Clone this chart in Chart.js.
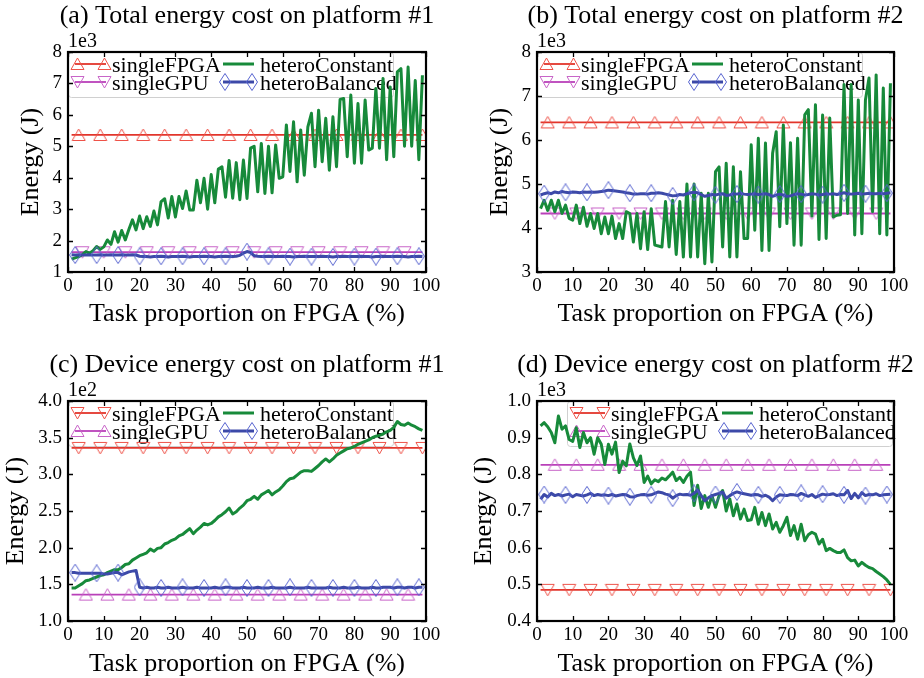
<!DOCTYPE html>
<html>
<head>
<meta charset="utf-8">
<script src="https://cdn.jsdelivr.net/npm/chart.js@4.4.0/dist/chart.umd.min.js"></script>
<style>
  body { margin: 0; background: #fff; }
  #wrap { position: relative; width: 924px; height: 678px; }
  #wrap canvas { position: absolute; }
</style>
</head>
<body>
<div id="wrap">
  <canvas id="pa" width="462" height="339" style="left:0;top:0"></canvas>
  <canvas id="pb" width="462" height="339" style="left:462px;top:0"></canvas>
  <canvas id="pc" width="462" height="339" style="left:0;top:339px"></canvas>
  <canvas id="pd" width="462" height="339" style="left:462px;top:339px"></canvas>
</div>
<script>
const taskShare = [1,2,3,4,5,6,7,8,9,10,11,12,13,14,15,16,17,18,19,20,
  21,22,23,24,25,26,27,28,29,30,31,32,33,34,35,36,37,38,39,40,
  41,42,43,44,45,46,47,48,49,50,51,52,53,54,55,56,57,58,59,60,
  61,62,63,64,65,66,67,68,69,70,71,72,73,74,75,76,77,78,79,80,
  81,82,83,84,85,86,87,88,89,90,91,92,93,94,95,96,97,98,99];
const xTicks = [0,10,20,30,40,50,60,70,80,90,100];

// (a) total energy, platform #1, x1e3 J
const aTicks = [1,2,3,4,5,6,7,8];
const aSingleFPGA = 5.36;
const aSingleGPU = 1.63;
const aHeteroConstant = [1.41,1.45,1.49,1.55,1.65,1.60,1.68,1.81,1.72,1.80,
  2.02,1.88,2.28,1.95,2.32,2.02,2.35,2.66,2.34,2.78,
  2.38,2.76,2.45,2.94,2.50,3.24,3.33,2.72,3.40,2.75,
  3.40,3.02,3.58,2.97,2.97,3.92,3.20,3.98,3.00,4.10,
  3.20,4.28,4.35,3.38,4.55,3.35,4.48,3.30,4.56,3.34,
  4.94,5.00,3.55,5.09,3.50,5.00,3.52,5.04,3.98,4.03,
  5.68,4.20,5.78,3.87,5.52,4.08,5.62,6.05,4.35,6.15,
  4.51,5.89,4.24,5.94,4.35,6.49,6.52,4.67,6.63,4.46,
  6.36,4.46,6.47,4.88,4.94,6.84,4.94,7.16,4.57,6.89,
  4.67,7.37,7.47,5.00,7.52,5.00,7.09,4.57,7.26];
const aHeteroBalanced = [1.55,1.54,1.55,1.54,1.54,1.55,1.54,1.54,1.55,1.54,
  1.54,1.55,1.54,1.54,1.55,1.54,1.54,1.55,1.54,1.50,
  1.49,1.49,1.48,1.49,1.49,1.50,1.49,1.48,1.49,1.49,
  1.49,1.50,1.49,1.48,1.49,1.49,1.49,1.50,1.49,1.49,
  1.48,1.49,1.49,1.50,1.49,1.49,1.50,1.53,1.60,1.65,
  1.62,1.52,1.50,1.49,1.49,1.50,1.49,1.49,1.49,1.50,
  1.49,1.49,1.48,1.49,1.49,1.50,1.49,1.49,1.49,1.49,
  1.50,1.49,1.49,1.48,1.49,1.49,1.50,1.49,1.49,1.49,
  1.49,1.50,1.49,1.49,1.48,1.49,1.49,1.50,1.49,1.49,
  1.49,1.50,1.49,1.49,1.48,1.49,1.49,1.50,1.49];

// (b) total energy, platform #2, x1e3 J
const bTicks = [3,4,5,6,7,8];
const bSingleFPGA = 6.40;
const bSingleGPU = 4.33;
const bHeteroConstant = [4.44,4.63,4.40,4.63,4.37,4.63,4.33,4.52,4.22,4.18,
  4.52,4.10,4.47,4.04,4.33,3.99,4.33,3.87,4.25,3.87,
  4.27,3.76,4.10,3.76,4.37,4.33,3.68,4.33,3.53,4.37,
  3.51,4.44,3.61,3.59,3.57,4.60,3.57,4.63,3.40,4.60,
  3.34,5.00,3.34,5.00,3.34,4.79,3.19,4.79,3.23,5.28,
  5.39,3.57,5.47,3.34,5.39,3.34,5.28,3.76,3.76,5.89,
  3.95,6.04,3.49,5.93,3.49,5.70,6.19,4.03,6.34,4.10,
  5.94,3.61,6.04,3.61,6.57,6.69,4.27,6.80,3.74,6.57,
  3.76,6.50,4.25,4.29,4.30,7.26,4.33,7.26,3.84,6.91,
  3.87,6.91,7.41,4.37,7.48,3.87,7.18,3.84,7.29];
const bHeteroBalanced = [4.75,4.78,4.80,4.78,4.82,4.80,4.83,4.81,4.80,4.82,
  4.81,4.80,4.82,4.81,4.82,4.81,4.82,4.83,4.84,4.86,
  4.85,4.84,4.83,4.82,4.80,4.79,4.77,4.77,4.78,4.78,
  4.77,4.79,4.79,4.80,4.79,4.77,4.75,4.73,4.74,4.76,
  4.75,4.78,4.80,4.81,4.80,4.76,4.72,4.74,4.76,4.75,
  4.77,4.78,4.74,4.75,4.78,4.77,4.79,4.77,4.76,4.77,
  4.78,4.76,4.77,4.78,4.76,4.72,4.75,4.77,4.75,4.72,
  4.73,4.76,4.78,4.77,4.75,4.76,4.78,4.77,4.75,4.76,
  4.78,4.77,4.78,4.76,4.78,4.80,4.78,4.77,4.78,4.79,
  4.77,4.78,4.79,4.78,4.78,4.79,4.78,4.79,4.80];

// (c) device energy, platform #1, x1e2 J
const cTicks = [1.0,1.5,2.0,2.5,3.0,3.5,4.0];
const cSingleFPGA = 3.36;
const cSingleGPU = 1.36;
const cHeteroConstant = [1.45,1.45,1.48,1.51,1.55,1.56,1.58,1.60,1.62,1.63,
  1.66,1.68,1.70,1.70,1.73,1.77,1.78,1.83,1.86,1.89,
  1.91,1.93,1.98,1.95,1.99,2.00,2.05,2.07,2.10,2.12,
  2.16,2.18,2.22,2.26,2.19,2.24,2.28,2.33,2.31,2.33,
  2.37,2.42,2.45,2.49,2.54,2.46,2.49,2.54,2.58,2.64,
  2.66,2.70,2.66,2.72,2.75,2.78,2.72,2.76,2.79,2.84,
  2.90,2.94,2.95,2.99,3.03,3.05,3.05,3.04,3.08,3.12,
  3.17,3.21,3.17,3.21,3.26,3.29,3.32,3.35,3.36,3.38,
  3.41,3.43,3.45,3.47,3.50,3.52,3.53,3.55,3.58,3.60,
  3.64,3.72,3.68,3.67,3.70,3.67,3.65,3.62,3.60];
const cHeteroBalanced = [1.66,1.66,1.65,1.65,1.65,1.65,1.65,1.65,1.65,1.64,
  1.64,1.65,1.66,1.66,1.63,1.65,1.67,1.68,1.69,1.46,
  1.45,1.46,1.45,1.45,1.46,1.45,1.45,1.46,1.45,1.45,
  1.45,1.46,1.45,1.45,1.45,1.46,1.45,1.45,1.45,1.45,
  1.46,1.45,1.45,1.46,1.46,1.45,1.45,1.45,1.46,1.45,
  1.45,1.45,1.46,1.45,1.45,1.45,1.46,1.45,1.45,1.45,
  1.45,1.46,1.45,1.45,1.45,1.45,1.46,1.45,1.45,1.45,
  1.45,1.45,1.46,1.45,1.45,1.45,1.46,1.45,1.45,1.45,
  1.46,1.45,1.45,1.45,1.46,1.45,1.45,1.46,1.46,1.46,
  1.45,1.46,1.46,1.45,1.46,1.46,1.45,1.46,1.46];

// (d) device energy, platform #2, x1e3 J
const dTicks = [0.4,0.5,0.6,0.7,0.8,0.9,1.0];
const dSingleFPGA = 0.485;
const dSingleGPU = 0.826;
const dHeteroConstant = [0.932,0.941,0.930,0.914,0.886,0.959,0.923,0.932,0.895,0.890,
  0.927,0.873,0.914,0.886,0.900,0.855,0.900,0.882,0.827,0.882,
  0.855,0.888,0.805,0.836,0.823,0.883,0.845,0.824,0.850,0.778,
  0.795,0.774,0.785,0.780,0.790,0.785,0.795,0.806,0.783,0.792,
  0.778,0.795,0.806,0.715,0.770,0.707,0.742,0.710,0.742,0.710,
  0.742,0.756,0.700,0.733,0.687,0.719,0.678,0.705,0.674,0.676,
  0.710,0.664,0.696,0.660,0.692,0.651,0.669,0.642,0.660,0.683,
  0.633,0.660,0.623,0.664,0.619,0.635,0.642,0.637,0.610,0.623,
  0.592,0.598,0.592,0.587,0.587,0.594,0.573,0.564,0.566,0.550,
  0.560,0.552,0.546,0.543,0.535,0.528,0.521,0.512,0.500];
const dHeteroBalanced = [0.732,0.745,0.738,0.748,0.742,0.745,0.741,0.744,0.746,0.739,
  0.745,0.743,0.741,0.744,0.748,0.742,0.745,0.743,0.744,0.742,
  0.745,0.741,0.743,0.745,0.744,0.739,0.738,0.742,0.744,0.745,
  0.743,0.744,0.748,0.752,0.750,0.746,0.744,0.735,0.742,0.746,
  0.744,0.745,0.743,0.748,0.757,0.742,0.728,0.736,0.742,0.745,
  0.748,0.752,0.735,0.742,0.748,0.752,0.749,0.747,0.745,0.743,
  0.745,0.744,0.740,0.743,0.738,0.728,0.738,0.744,0.743,0.742,
  0.745,0.744,0.742,0.748,0.744,0.740,0.745,0.737,0.742,0.746,
  0.744,0.745,0.747,0.742,0.745,0.744,0.756,0.734,0.748,0.736,
  0.750,0.742,0.745,0.744,0.747,0.742,0.744,0.745,0.746];

const SERIF = "'Liberation Serif', 'Times New Roman', serif";
const RED = '#e2352b', RED_MK = '#ee5248';
const PURPLE = '#b940b9', PURPLE_MK = '#c865c8';
const GREEN = '#178a3a';
const BLUE = '#3c49a8', BLUE_MK = '#5865d0';

function makeMarker(shape, color) {
  const c = document.createElement('canvas');
  const dia = shape === 'diamond';
  c.width = dia ? 12 : 15;
  c.height = dia ? 18 : 14;
  const g = c.getContext('2d');
  const w = c.width, h = c.height;
  g.strokeStyle = color;
  g.lineWidth = 1;
  g.beginPath();
  if (shape === 'up') {
    g.moveTo(w / 2, 1); g.lineTo(w - 1, h - 1.5); g.lineTo(1, h - 1.5);
  } else if (shape === 'down') {
    g.moveTo(1, 1.5); g.lineTo(w - 1, 1.5); g.lineTo(w / 2, h - 1);
  } else {
    g.moveTo(w / 2, 0.5); g.lineTo(w - 0.5, h / 2); g.lineTo(w / 2, h - 0.5); g.lineTo(0.5, h / 2);
  }
  g.closePath();
  g.stroke();
  return c;
}

const flat = v => taskShare.map(() => v);

function series(label, values, color, width, marker, phase, order) {
  return {
    label,
    data: taskShare.map((x, i) => ({ x, y: values[i] })),
    borderColor: color,
    backgroundColor: color,
    borderWidth: width,
    borderJoinStyle: 'round',
    tension: 0,
    order,
    pointStyle: marker || 'circle',
    pointRadius: marker ? (c => c.dataIndex % 6 === phase ? 6 : 0) : 0,
    pointHoverRadius: 0,
    marker
  };
}

function decor(p) {
  return {
    id: 'decor',
    beforeDatasetsDraw(chart) {
      const { ctx, chartArea: a } = chart;
      const L = a.left + p.legendShift, T = a.top;
      ctx.save();
      ctx.fillStyle = 'rgba(255,255,255,0.8)';
      ctx.strokeStyle = '#d0d0d0';
      ctx.lineWidth = 1;
      ctx.beginPath();
      ctx.roundRect(L + 0.5, T + 0.5, 325, 45, 3);
      ctx.fill();
      ctx.stroke();
      chart.data.datasets.forEach((ds, i) => {
        const col = Math.floor(i / 2), row = i % 2;
        const x0 = L + (col ? 155 : 7), y = T + (row ? 30 : 12);
        ctx.strokeStyle = ds.borderColor;
        ctx.lineWidth = ds.borderWidth;
        ctx.beginPath();
        ctx.moveTo(x0, y);
        ctx.lineTo(x0 + 31, y);
        ctx.stroke();
        if (ds.marker) {
          [x0 + 2, x0 + 29].forEach(mx => {
            ctx.drawImage(ds.marker, Math.round(mx - ds.marker.width / 2), Math.round(y - ds.marker.height / 2));
          });
        }
        ctx.fillStyle = '#000';
        ctx.font = '22px ' + SERIF;
        ctx.textAlign = 'left';
        ctx.textBaseline = 'alphabetic';
        ctx.fillText(ds.label, x0 + 37, y + 7.5);
      });
      ctx.restore();
    },
    afterDatasetsDraw(chart) {
      const { ctx, chartArea: a, scales: { x, y } } = chart;
      ctx.save();
      ctx.strokeStyle = '#000';
      ctx.lineWidth = 1.3;
      ctx.beginPath();
      xTicks.forEach(v => {
        const px = Math.round(x.getPixelForValue(v)) + 0.5;
        ctx.moveTo(px, a.bottom); ctx.lineTo(px, a.bottom - 5);
        ctx.moveTo(px, a.top); ctx.lineTo(px, a.top + 5);
      });
      p.ticks.forEach(v => {
        const py = Math.round(y.getPixelForValue(v)) + 0.5;
        ctx.moveTo(a.left, py); ctx.lineTo(a.left + 5, py);
        ctx.moveTo(a.right, py); ctx.lineTo(a.right - 5, py);
      });
      ctx.stroke();
      ctx.lineWidth = 2.2;
      ctx.strokeRect(a.left, a.top, a.right - a.left, a.bottom - a.top);

      ctx.fillStyle = '#000';
      ctx.font = '26px ' + SERIF;
      ctx.textAlign = 'center';
      ctx.textBaseline = 'middle';
      ctx.fillText(p.title, (a.left + a.right) / 2, a.top - 36);
      ctx.font = '20px ' + SERIF;
      ctx.textAlign = 'left';
      ctx.fillText(p.exp, a.left, a.top - 10);
      ctx.restore();
    }
  };
}

function makeChart(p) {
  const tickFont = { family: SERIF, size: 19 };
  const titleFont = { family: SERIF, size: 26, lineHeight: 1 };
  new Chart(document.getElementById(p.el), {
    type: 'line',
    data: { datasets: p.datasets },
    options: {
      responsive: false,
      animation: false,
      devicePixelRatio: 1,
      layout: { padding: { left: 0, right: p.right, top: p.top, bottom: 0 } },
      plugins: { legend: { display: false }, tooltip: { enabled: false }, title: { display: false } },
      scales: {
        x: {
          type: 'linear', min: 0, max: 100,
          afterBuildTicks: s => { s.ticks = xTicks.map(v => ({ value: v })); },
          afterFit: s => { s.height = p.xh; },
          grid: { display: false, drawTicks: false },
          border: { display: false },
          ticks: { font: tickFont, color: '#000', padding: 3, maxRotation: 0, autoSkip: false, callback: v => String(v) },
          title: { display: true, text: 'Task proportion on FPGA (%)', font: titleFont, color: '#000', padding: { top: 0, bottom: p.xtp } }
        },
        y: {
          type: 'linear', min: p.ticks[0], max: p.ticks[p.ticks.length - 1],
          afterBuildTicks: s => { s.ticks = p.ticks.map(v => ({ value: v })); },
          afterFit: s => { s.width = p.yw; },
          grid: { display: false, drawTicks: false },
          border: { display: false },
          ticks: { font: tickFont, color: '#000', padding: 6, autoSkip: false, callback: v => v.toFixed(p.dec) },
          title: { display: true, text: 'Energy (J)', font: titleFont, color: '#000', padding: { top: p.ytp, bottom: 0 } }
        }
      }
    },
    plugins: [decor(p)]
  });
}

makeChart({
  el: 'pa', title: '(a) Total energy cost on platform #1', exp: '1e3', ticks: aTicks, dec: 0,
  yw: 68, right: 36, top: 52, xh: 67, xtp: 12, ytp: 18, legendShift: 0,
  datasets: [
    series('singleFPGA', flat(aSingleFPGA), RED, 1.8, makeMarker('up', RED_MK), 2, 4),
    series('singleGPU', flat(aSingleGPU), PURPLE, 1.8, makeMarker('down', PURPLE_MK), 3, 3),
    series('heteroConstant', aHeteroConstant, GREEN, 3, null, 0, 2),
    series('heteroBalanced', aHeteroBalanced, BLUE, 3, makeMarker('diamond', BLUE_MK), 1, 1)
  ]
});
makeChart({
  el: 'pb', title: '(b) Total energy cost on platform #2', exp: '1e3', ticks: bTicks, dec: 0,
  yw: 75, right: 30, top: 52, xh: 67, xtp: 12, ytp: 25, legendShift: 0,
  datasets: [
    series('singleFPGA', flat(bSingleFPGA), RED, 1.8, makeMarker('up', RED_MK), 2, 4),
    series('singleGPU', flat(bSingleGPU), PURPLE, 1.8, makeMarker('down', PURPLE_MK), 4, 3),
    series('heteroConstant', bHeteroConstant, GREEN, 3, null, 0, 2),
    series('heteroBalanced', bHeteroBalanced, BLUE, 3, makeMarker('diamond', BLUE_MK), 1, 1)
  ]
});
makeChart({
  el: 'pc', title: '(c) Device energy cost on platform #1', exp: '1e2', ticks: cTicks, dec: 1,
  yw: 68, right: 36, top: 62, xh: 57, xtp: 1, ytp: 3, legendShift: 0,
  datasets: [
    series('singleFPGA', flat(cSingleFPGA), RED, 1.8, makeMarker('down', RED_MK), 2, 4),
    series('singleGPU', flat(cSingleGPU), PURPLE, 1.8, makeMarker('up', PURPLE_MK), 4, 3),
    series('heteroConstant', cHeteroConstant, GREEN, 3, null, 0, 2),
    series('heteroBalanced', cHeteroBalanced, BLUE, 3, makeMarker('diamond', BLUE_MK), 1, 1)
  ]
});
makeChart({
  el: 'pd', title: '(d) Device energy cost on platform #2', exp: '1e3', ticks: dTicks, dec: 1,
  yw: 75, right: 30, top: 62, xh: 57, xtp: 1, ytp: 9, legendShift: 30,
  datasets: [
    series('singleFPGA', flat(dSingleFPGA), RED, 1.8, makeMarker('down', RED_MK), 2, 4),
    series('singleGPU', flat(dSingleGPU), PURPLE, 1.8, makeMarker('up', PURPLE_MK), 4, 3),
    series('heteroConstant', dHeteroConstant, GREEN, 3, null, 0, 2),
    series('heteroBalanced', dHeteroBalanced, BLUE, 3, makeMarker('diamond', BLUE_MK), 1, 1)
  ]
});
</script>
</body>
</html>
